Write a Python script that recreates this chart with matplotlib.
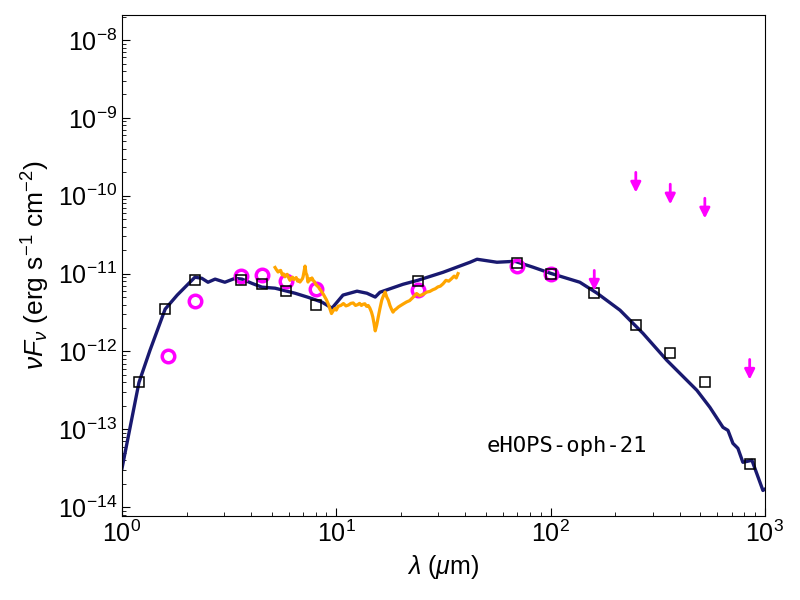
import numpy as np
import matplotlib
matplotlib.use("Agg")
import matplotlib.pyplot as plt

plt.rcParams['font.family'] = ['Liberation Sans', 'DejaVu Sans']
plt.rcParams['mathtext.fontset'] = 'custom'
plt.rcParams['mathtext.rm'] = 'Liberation Sans'
plt.rcParams['mathtext.it'] = 'Liberation Sans:italic'
plt.rcParams['mathtext.bf'] = 'Liberation Sans:bold'

# model SED
model_lam = [1.0, 1.20, 1.35, 1.59, 1.81, 2.19, 2.36, 2.52, 2.72, 3.02, 3.37, 3.63,
             4.04, 4.50, 5.18, 6.42, 7.38, 8.58, 9.55, 10.75, 12.5, 13.9, 15.2, 16.0,
             20.5, 24.0, 31.5, 42.1, 45.4, 56.2, 68.2, 82.8, 100, 137, 165, 211, 270,
             349, 482, 554, 638, 673, 710, 749, 790, 871, 980, 1000]
model_flux = [3.15e-14, 4.0e-13, 1.03e-12, 3.5e-12, 5.3e-12, 9.0e-12, 8.7e-12, 7.75e-12,
              8.5e-12, 7.75e-12, 8.7e-12, 8.5e-12, 7.5e-12, 6.7e-12, 6.5e-12, 5.6e-12,
              4.97e-12, 4.3e-12, 3.6e-12, 5.3e-12, 5.95e-12, 5.6e-12, 5.0e-12, 5.77e-12,
              7.3e-12, 8.2e-12, 1.04e-11, 1.40e-11, 1.53e-11, 1.40e-11, 1.44e-11, 1.21e-11,
              1.01e-11, 7.75e-12, 5.6e-12, 3.39e-12, 1.71e-12, 7.7e-13, 3.17e-13, 1.92e-13,
              1.06e-13, 9.7e-14, 6.6e-14, 5.7e-14, 3.77e-14, 4.0e-14, 1.64e-14, 1.7e-14]

# IRS spectrum
spec_lam = [5.18, 5.26, 5.35, 5.42, 5.5, 5.6, 5.68, 5.76, 5.84, 5.9, 6.0, 6.08, 6.16,
            6.25, 6.33, 6.42, 6.5, 6.6, 6.68, 6.77, 6.86, 6.95, 7.0, 7.08, 7.15, 7.22,
            7.3, 7.38, 7.5, 7.6, 7.7, 7.8, 7.9, 8.0, 8.12, 8.25, 8.38, 8.5, 8.68, 8.85,
            9.0, 9.2, 9.35, 9.5, 9.65, 9.85, 10.0, 10.2, 10.5, 10.8, 11.1, 11.4, 11.7,
            12.0, 12.3, 12.6, 12.85, 13.1, 13.35, 13.6, 13.85, 14.1, 14.35, 14.6, 14.8,
            15.0, 15.2, 15.45, 15.7, 16.0, 16.3, 16.6, 16.9, 17.2, 17.5, 17.8, 18.1,
            18.4, 18.7, 19.0, 19.5, 20.0, 20.6, 21.3, 22.0, 22.8, 23.7, 24.5, 25.5,
            26.5, 27.3, 28.2, 29.0, 29.8, 30.6, 31.5, 32.5, 33.5, 34.5, 35.5, 36.3, 37.0]
spec_flux = [1.2e-11, 1.12e-11, 1.05e-11, 1.08e-11, 1.1e-11, 9.6e-12, 9.9e-12, 9.1e-12,
             9.5e-12, 9.8e-12, 8.8e-12, 8.2e-12, 8.8e-12, 9.0e-12, 8.4e-12, 8.65e-12,
             8.9e-12, 8.0e-12, 8.3e-12, 7.8e-12, 8.2e-12, 8.6e-12, 9.1e-12, 1.08e-11,
             1.25e-11, 1.02e-11, 9.5e-12, 7.8e-12, 8.6e-12, 8.3e-12, 8.8e-12, 8.2e-12,
             7.9e-12, 7.4e-12, 7.0e-12, 6.75e-12, 6.3e-12, 6.0e-12, 5.5e-12, 5.0e-12,
             4.6e-12, 4.0e-12, 3.5e-12, 3.07e-12, 3.3e-12, 3.56e-12, 3.4e-12, 3.8e-12,
             3.9e-12, 4.13e-12, 3.85e-12, 3.95e-12, 4.15e-12, 4.2e-12, 3.9e-12, 4.0e-12,
             4.15e-12, 3.9e-12, 4.05e-12, 4.1e-12, 3.8e-12, 3.9e-12, 3.6e-12, 3.2e-12,
             2.8e-12, 2.3e-12, 1.84e-12, 2.2e-12, 2.77e-12, 3.6e-12, 4.55e-12, 5.2e-12,
             5.8e-12, 5.0e-12, 4.55e-12, 3.9e-12, 3.5e-12, 3.2e-12, 3.4e-12, 3.5e-12,
             3.73e-12, 3.9e-12, 4.1e-12, 4.33e-12, 4.5e-12, 4.95e-12, 5.55e-12, 5.2e-12,
             5.45e-12, 5.8e-12, 5.9e-12, 6.2e-12, 6.4e-12, 6.75e-12, 6.9e-12, 7.4e-12,
             8.2e-12, 8.0e-12, 8.6e-12, 9.3e-12, 8.8e-12, 1.0e-11]

# observed photometry (squares)
phot_lam = [1.2, 1.59, 2.19, 3.6, 4.5, 5.8, 8.0, 24, 70, 100, 160, 250, 362, 525, 850]
phot_flux = [4.0e-13, 3.5e-12, 8.2e-12, 8.4e-12, 7.3e-12, 5.9e-12, 4.0e-12, 8.0e-12,
             1.35e-11, 1.0e-11, 5.7e-12, 2.2e-12, 9.7e-13, 4.1e-13, 3.6e-14]

# other photometry (circles)
circ_lam = [1.64, 2.19, 3.6, 4.5, 5.8, 8.0, 24, 70, 100]
circ_flux = [8.7e-13, 4.5e-12, 9.35e-12, 9.6e-12, 8.05e-12, 6.4e-12, 6.25e-12,
             1.25e-11, 1.0e-11]

# upper limits
ul_lam = [160, 250, 362, 525, 850]
ul_flux = [1.1e-11, 2.0e-10, 1.41e-10, 9.3e-11, 7.9e-13]

fig = plt.figure(figsize=(8, 6), dpi=100)
ax = fig.add_axes([0.1525, 0.14, 0.8035, 0.835])

ax.plot(model_lam, model_flux, color='midnightblue', lw=2.4, zorder=2)
ax.plot(circ_lam, circ_flux, 'o', mfc='none', mec='magenta', ms=9, mew=2.5, zorder=3)
ax.plot(spec_lam, spec_flux, color='orange', lw=2.3, zorder=4)
ax.plot(phot_lam, phot_flux, 's', mfc='none', mec='black', ms=6.5, mew=1.1, zorder=5)
for xl, yl in zip(ul_lam, ul_flux):
    ax.annotate('', xy=(xl, yl * 0.55), xytext=(xl, yl),
                arrowprops=dict(arrowstyle='-|>', color='magenta', lw=2,
                                mutation_scale=15, shrinkA=0, shrinkB=0), zorder=6)

ax.set_xscale('log')
ax.set_yscale('log')
ax.set_xlim(1, 1000)
ax.set_ylim(7.7e-15, 2.1e-8)
ax.tick_params(which='both', direction='in', labelsize=18)
ax.tick_params(which='major', length=6)
ax.tick_params(which='minor', length=3)
ax.set_xlabel(r'$\lambda$ ($\mu$m)', fontsize=18)
ax.set_ylabel(r'$\nu F_\nu$ (erg s$^{-1}$ cm$^{-2}$)', fontsize=19)
ax.text(0.568, 0.128, 'eHOPS-oph-21', transform=ax.transAxes,
        family='DejaVu Sans Mono', fontsize=16)

fig.savefig('out.png', dpi=100)
